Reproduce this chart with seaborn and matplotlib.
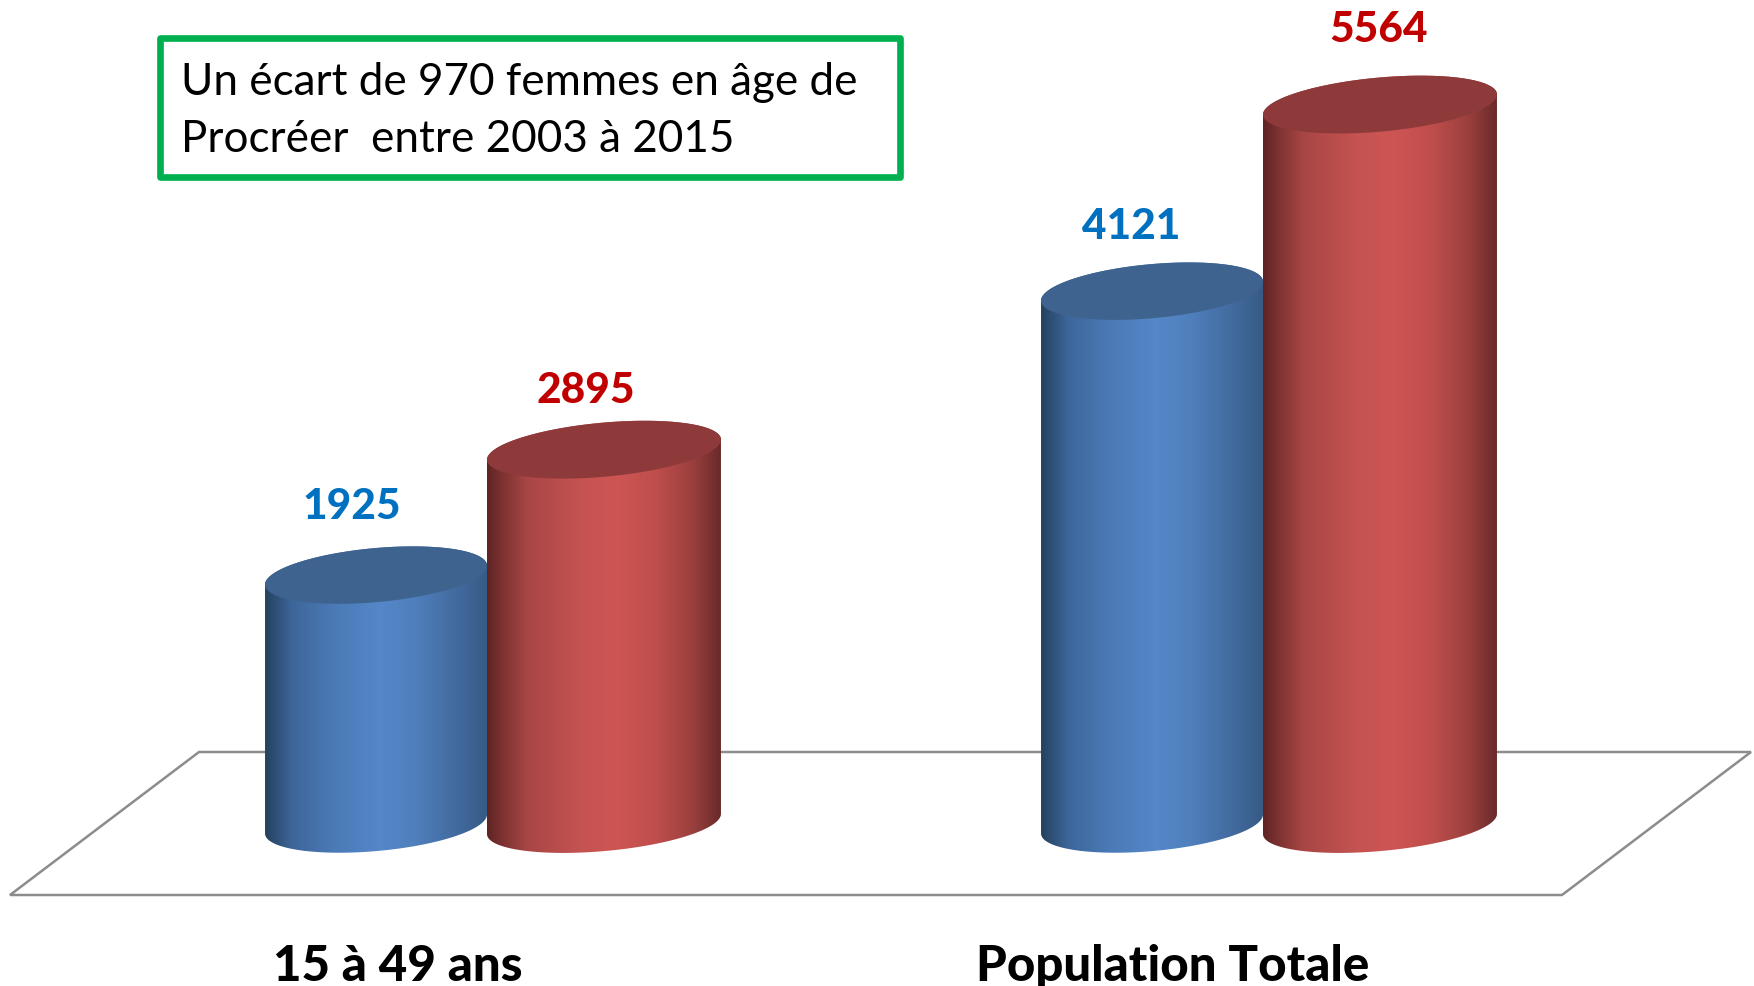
#!/usr/bin/env python
# Cylinder style grouped bars: women 15-49 and total population, 2003 vs 2015

import numpy as np
import pandas as pd
import seaborn as sns
from matplotlib import pyplot as plt
from matplotlib.colors import LinearSegmentedColormap
from matplotlib.patches import Polygon, Rectangle

groups = ["15 à 49 ans", "Population Totale"]
values_2003 = [1925, 4121]
values_2015 = [2895, 5564]
note_text = "Un écart de 970 femmes en âge de\nProcréer  entre 2003 à 2015"

FIG_W, FIG_H = 1754, 986
BASE_Y = 824          # pixel row of the zero line
PX_PER_VALUE = 0.1293
PX_PER_GROUP = 776
GROUP0_X = 487
AXES_BOTTOM = 930
TILT = np.radians(5.2)
ELL_B = 27.0

sns.set_theme(style="white")
plt.rcParams["font.family"] = ["Lato", "DejaVu Sans"]

df = pd.DataFrame({
    "groupe": groups * 2,
    "effectif": values_2003 + values_2015,
    "annee": ["2003"] * 2 + ["2015"] * 2,
})

fig = plt.figure(figsize=(FIG_W / 100, FIG_H / 100), dpi=100)
ax = fig.add_axes([0, (FIG_H - AXES_BOTTOM) / FIG_H, 1, AXES_BOTTOM / FIG_H])

sns.barplot(data=df, x="groupe", y="effectif", hue="annee", width=0.603, gap=0,
            palette=["#5587c9", "#cd5654"], legend=False, ax=ax)

xlim = (-GROUP0_X / PX_PER_GROUP, (FIG_W - GROUP0_X) / PX_PER_GROUP)
ylim = (-(AXES_BOTTOM - BASE_Y) / PX_PER_VALUE, BASE_Y / PX_PER_VALUE)


def ellipse_points(cx, cy, half_w):
    # tilted ellipse, worked out in pixels then put back in data units
    # the first point is the left tip, the lower arc comes first
    a = np.sqrt(half_w**2 - (ELL_B * np.sin(TILT))**2) / np.cos(TILT)
    t = np.linspace(0, 2 * np.pi, 400, endpoint=False)
    dx = a * np.cos(t) * np.cos(TILT) - ELL_B * np.sin(t) * np.sin(TILT)
    dy = a * np.cos(t) * np.sin(TILT) + ELL_B * np.sin(t) * np.cos(TILT)
    start = np.argmin(dx)
    dx, dy = np.roll(dx, -start), np.roll(dy, -start)
    tip = np.argmax(dx)
    return np.column_stack([cx + dx / PX_PER_GROUP, cy + dy / PX_PER_VALUE]), tip


blue_map = LinearSegmentedColormap.from_list("blue_cyl", [
    (0, "#25415f"), (0.12, "#3d669a"), (0.3, "#4a79b5"), (0.52, "#5587c9"),
    (0.68, "#4f7fbc"), (0.88, "#41699c"), (1, "#375b85")])
red_map = LinearSegmentedColormap.from_list("red_cyl", [
    (0, "#5e2524"), (0.06, "#7b3130"), (0.17, "#a84645"), (0.4, "#c45351"),
    (0.55, "#cd5654"), (0.72, "#c04e4c"), (0.88, "#9a403e"), (1, "#692a29")])
gradient = np.linspace(0, 1, 256).reshape(1, -1)

styles = [(blue_map, "#3e638f", 3, "#0070c0", [(-24, 68), (-21, 64)], 222 / 234),
          (red_map, "#8f3a3a", 5, "#c00000", [(-18, 59), (-1, 75)], 1.0)]

for bars, (cmap, top_color, z, text_color, offsets, keep) in zip(ax.containers, styles):
    for bar, offset in zip(bars, offsets):
        right = bar.get_x() + bar.get_width()
        width = bar.get_width() * keep
        left = right - width
        value = bar.get_height()
        half_w = width * PX_PER_GROUP / 2
        cx = (left + right) / 2
        bar.set_visible(False)

        foot, tip = ellipse_points(cx, 0, half_w)
        top, _ = ellipse_points(cx, value, half_w)
        outline = np.vstack([foot[:tip + 1], top[tip:], top[:1]])
        body = Polygon(outline, closed=True, transform=ax.transData)
        im = ax.imshow(gradient, cmap=cmap, aspect="auto", zorder=z,
                       extent=(left, right, ylim[0], ylim[1]))
        im.set_clip_path(body)
        ax.add_patch(Polygon(top, closed=True, facecolor=top_color,
                             edgecolor="none", zorder=z + 0.5))
        ax.annotate(f"{value:.0f}", xy=(cx, value), xytext=offset,
                    textcoords="offset pixels", ha="center", va="center",
                    fontsize=30.5, fontweight="black", color=text_color, zorder=8)

ax.set_xlim(xlim)
ax.set_ylim(ylim)


def to_axes(px, py):
    return px / FIG_W, (AXES_BOTTOM - py) / AXES_BOTTOM


# floor of the 3D chart
floor = [to_axes(199, 752), to_axes(1751, 752), to_axes(1562, 895), to_axes(10, 895)]
ax.add_patch(Polygon(floor, closed=True, transform=ax.transAxes, facecolor="white",
                     edgecolor="#8c8c8c", linewidth=1.8, zorder=1))

# note box
x0, y1 = to_axes(160, 177)
x1, y0 = to_axes(900, 38)
ax.add_patch(Rectangle((x0, y1), x1 - x0, y0 - y1, transform=ax.transAxes,
                       facecolor="white", edgecolor="#00b050", linewidth=4.8,
                       joinstyle="round", zorder=9))
tx, ty = to_axes(181, 111)
ax.text(tx, ty, note_text, transform=ax.transAxes, ha="left", va="center",
        fontsize=31.7, color="black", linespacing=1.5, zorder=10)

# group names sit left of the group centre in the source
ax.set_xticks([-89 / PX_PER_GROUP, 1 - 90 / PX_PER_GROUP], labels=groups)
ax.tick_params(axis="x", length=0, pad=10, labelsize=35.5)
for label in ax.get_xticklabels():
    label.set_fontweight("black")
    label.set_color("black")
ax.tick_params(axis="y", left=False, labelleft=False)
ax.set_xlabel("")
ax.set_ylabel("")
sns.despine(ax=ax, left=True, bottom=True)

fig.savefig("out.png", dpi=100, facecolor="white")
